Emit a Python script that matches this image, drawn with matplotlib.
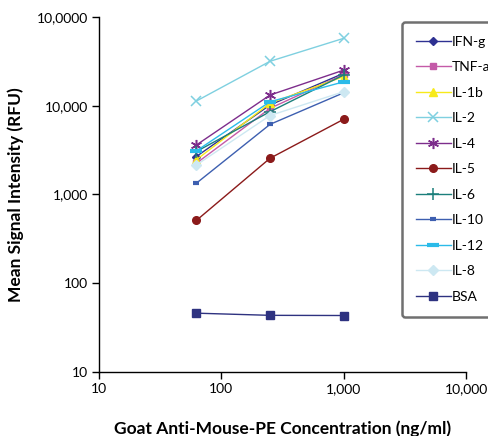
import matplotlib
matplotlib.use("Agg")
import matplotlib.pyplot as plt
from matplotlib.ticker import FixedLocator, NullLocator

plt.rcParams['font.family'] = ['Lato', 'DejaVu Sans']

conc = [62.5, 250, 1000]
series = {
    "IFN-g": [2680, 10200, 23200],
    "TNF-a": [2250, 9350, 22500],
    "IL-1b": [2460, 10700, 21300],
    "IL-2": [11300, 31700, 57500],
    "IL-4": [3610, 13200, 25200],
    "IL-5": [510, 2560, 7040],
    "IL-6": [3050, 8570, 22200],
    "IL-10": [1340, 6170, 14000],
    "IL-12": [3100, 11100, 18600],
    "IL-8": [2150, 7760, 14400],
    "BSA": [46, 43.5, 43.3],
}
styles = {
    "IFN-g": dict(color="#2e3192", marker="D", ms=4.5),
    "TNF-a": dict(color="#c45aa8", marker="s", ms=5),
    "IL-1b": dict(color="#f7ea1a", marker="^", ms=6),
    "IL-2": dict(color="#7fd0e0", marker="x", ms=7, mew=1.1),
    "IL-4": dict(color="#7d2d8c", marker=(6, 2, 0), ms=8, mew=1.1),
    "IL-5": dict(color="#8b1a1a", marker="o", ms=5.5),
    "IL-6": dict(color="#1b7f7b", marker="+", ms=8, mew=1.1),
    "IL-10": dict(color="#3d5fb0", marker="_", ms=4.5, mew=3),
    "IL-12": dict(color="#2bbbe9", marker="_", ms=8, mew=3),
    "IL-8": dict(color="#cde8f2", marker="D", ms=5.5),
    "BSA": dict(color="#2e3280", marker="s", ms=5.5),
}
xticks = [10, 100, 1000, 10000]
xticklabels = ["10", "100", "1,000", "10,000"]
yticks = [10, 100, 1000, 10000, 100000]
yticklabels = ["10", "100", "1,000", "10,000", "10,0000"]

fig = plt.figure(figsize=(4.88, 4.36), dpi=100)
ax = fig.add_axes([99/488, 1-372/436, (466-99)/488, (372-17)/436])
for name, vals in series.items():
    st = styles[name]
    ax.plot(conc, vals, label=name, color=st["color"], marker=st["marker"],
            markersize=st["ms"], markeredgewidth=st.get("mew", 1.0),
            linewidth=1.0, clip_on=False)

ax.set_xscale("log")
ax.set_yscale("log")
ax.set_xlim(10, 10000)
ax.set_ylim(10, 100000)
ax.xaxis.set_major_locator(FixedLocator(xticks))
ax.yaxis.set_major_locator(FixedLocator(yticks))
ax.xaxis.set_minor_locator(NullLocator())
ax.yaxis.set_minor_locator(NullLocator())
ax.set_xticklabels(xticklabels, fontsize=10)
ax.set_yticklabels(yticklabels, fontsize=10)
ax.tick_params(direction="out", length=5, width=1, color="black", pad=3)
for s in ["top", "right"]:
    ax.spines[s].set_visible(False)
for s in ["left", "bottom"]:
    ax.spines[s].set_linewidth(1.0)

ax.set_xlabel("Goat Anti-Mouse-PE Concentration (ng/ml)", fontsize=12.5,
              fontweight="bold", labelpad=18)
ax.set_ylabel("Mean Signal Intensity (RFU)", fontsize=12.5,
              fontweight="bold", labelpad=9)

leg = fig.legend(loc="upper left", bbox_to_anchor=(402/488, 1-22/436),
                 bbox_transform=fig.transFigure, fontsize=10,
                 frameon=True, fancybox=True, edgecolor="#707070",
                 handlelength=2.5, labelspacing=0.97, borderpad=1.0,
                 handletextpad=0.1, borderaxespad=0)
leg.get_frame().set_linewidth(1.8)
leg.get_frame().set_alpha(1)

fig.savefig("out.png", dpi=100)
